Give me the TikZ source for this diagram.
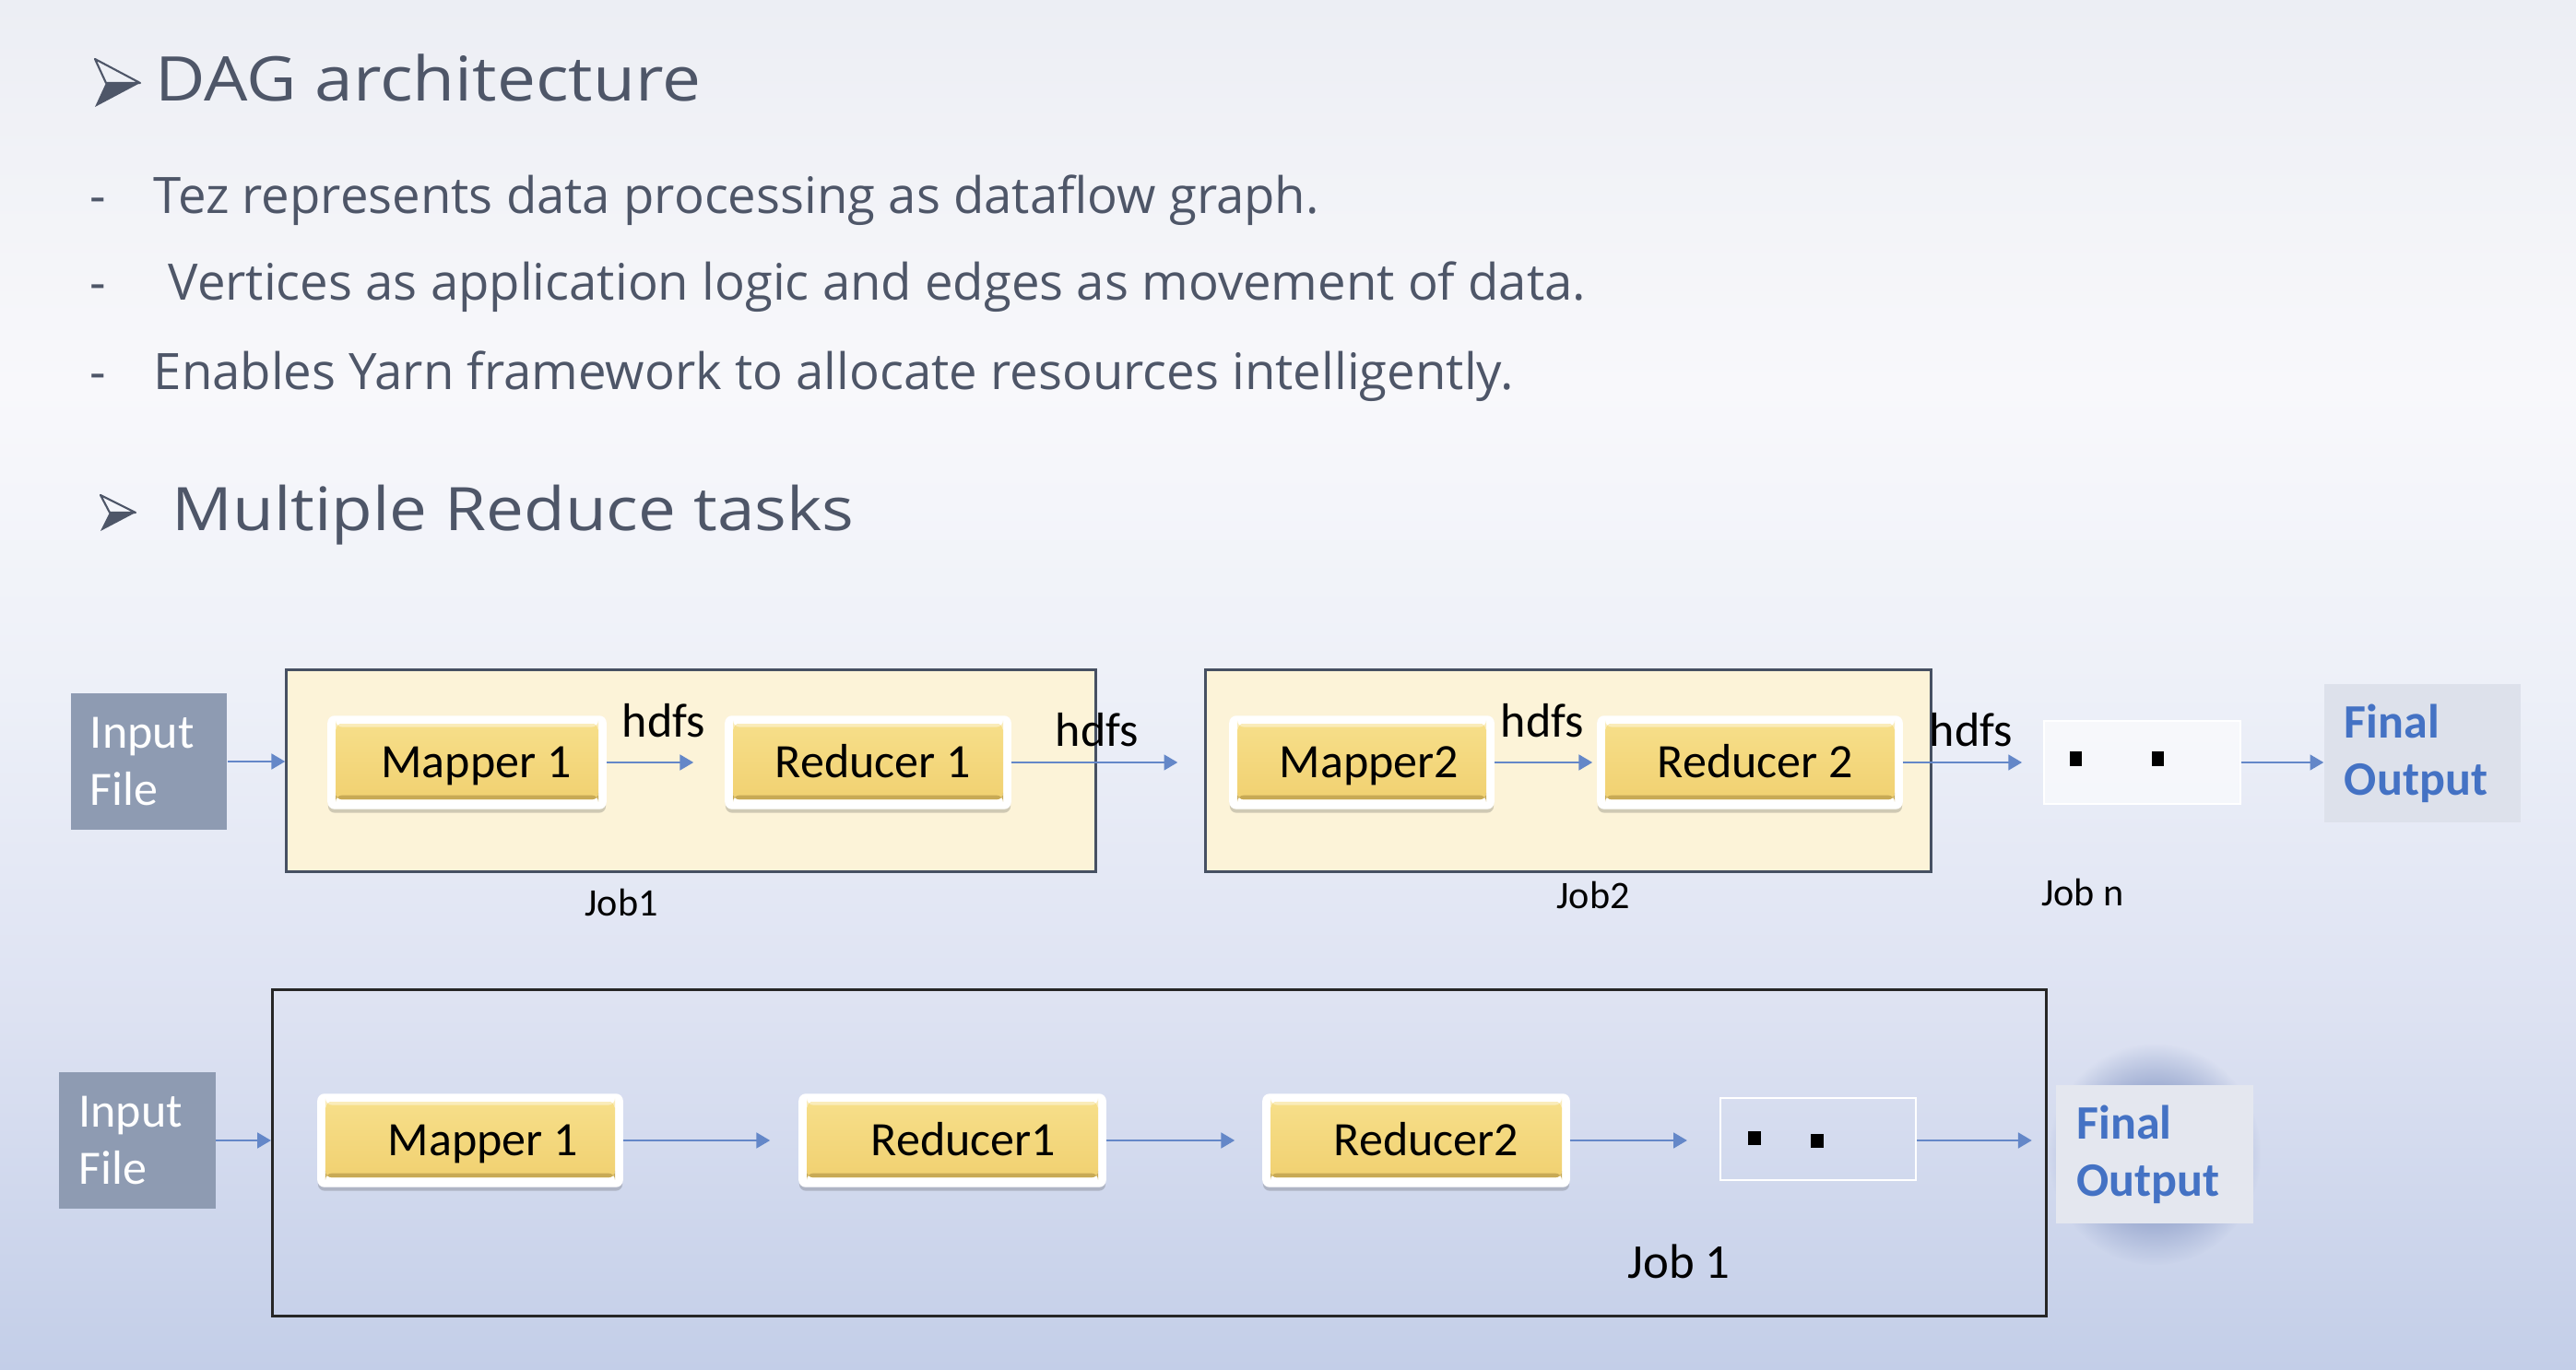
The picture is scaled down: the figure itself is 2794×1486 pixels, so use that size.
\documentclass[tikz,border=0pt]{standalone}
\usepackage{fontspec}
\setmainfont{Carlito}
\newfontfamily\hfont{Open Sans}
\newfontfamily\hfontwide[FakeStretch=1.12]{Open Sans}
\usetikzlibrary{arrows.meta,shadows,fadings}
\pgfdeclareradialshading{glowshade}{\pgfpointorigin}{color(0bp)=(transparent!0); color(14bp)=(transparent!0); color(25bp)=(transparent!100); color(50bp)=(transparent!100)}
\pgfdeclarefading{glowfade}{\pgfuseshading{glowshade}}
\definecolor{bg0}{RGB}{236,238,244}
\definecolor{bg1}{RGB}{248,248,251}
\definecolor{bg2}{RGB}{237,240,248}
\definecolor{bg3}{RGB}{221,226,242}
\definecolor{bg4}{RGB}{195,206,232}
\definecolor{headc}{RGB}{78,86,104}
\definecolor{inputc}{RGB}{142,155,178}
\definecolor{cream}{RGB}{252,243,216}
\definecolor{framec}{RGB}{70,80,98}
\definecolor{ytop}{RGB}{247,224,140}
\definecolor{ybot}{RGB}{240,207,110}
\definecolor{ydark}{RGB}{200,170,85}
\definecolor{arrc}{RGB}{100,135,200}
\definecolor{finalfill}{RGB}{221,225,235}
\definecolor{finaltext}{RGB}{68,114,196}
\definecolor{glowc}{RGB}{155,170,208}
\tikzset{
  boxfont/.style={font=\fontsize{14.8}{17.6}\selectfont},
  inbox/.style={boxfont, fill=inputc, text=white, align=left, text width=1.27cm,
    inner xsep=0.21cm, inner ysep=0pt, minimum height=1.48cm},
  finalbox/.style={boxfont, fill=finalfill, text=finaltext, align=left, text width=1.69cm,
    inner xsep=0.22cm, inner ysep=0pt, minimum height=1.5cm, font=\fontsize{14.8}{17.6}\selectfont\bfseries},
  jobframe/.style={draw=framec, line width=0.85pt, fill=cream, inner sep=0pt, minimum height=2.18cm},
  bigframe/.style={draw=black!85, line width=0.85pt, inner sep=0pt},
  ybox/.style={boxfont, fill=white, draw=white, rounded corners=2pt, inner sep=0pt,
    minimum height=1cm, text height=0.335cm, text depth=0cm,
    drop shadow={shadow xshift=0pt, shadow yshift=-1.3pt, opacity=0.25, fill=black!70},
    path picture={
      \shade[top color=ytop, bottom color=ybot]
        ([xshift=2.3pt,yshift=-2.3pt]path picture bounding box.north west)
        rectangle ([xshift=-2.3pt,yshift=2.8pt]path picture bounding box.south east);
      \fill[ydark]
        ([xshift=2.3pt,yshift=2.8pt]path picture bounding box.south west)
        rectangle ([xshift=-2.3pt,yshift=4.1pt]path picture bounding box.south east);
      \fill[ytop!60!white]
        ([xshift=2.3pt,yshift=-2.3pt]path picture bounding box.north west)
        rectangle ([xshift=-2.3pt,yshift=-3.3pt]path picture bounding box.north east);
    }},
  dotbox/.style={draw=white, line width=0.5pt, inner sep=0pt},
  arr/.style={draw=arrc, line width=0.6pt, -{Triangle[length=4.2pt,width=4.8pt]}},
  lab/.style={inner sep=0pt, anchor=base west, font=\fontsize{14.8}{17}\selectfont},
  joblab/.style={inner sep=0pt, anchor=base},
  head/.style={inner sep=0pt, anchor=base west, text=headc},
  bul/.style={inner sep=0pt, anchor=base west, text=headc, font=\hfont\fontsize{15.5}{18}\selectfont},
}
\begin{document}
\begin{tikzpicture}[x=0.01cm, y=-0.01cm]
\useasboundingbox (0,0) rectangle (2794,1486);
% background
\shade[top color=bg0, bottom color=bg1] (0,0) rectangle (2794,421);
\shade[top color=bg1, bottom color=bg2] (0,420) rectangle (2794,751);
\shade[top color=bg2, bottom color=bg3] (0,750) rectangle (2794,1101);
\shade[top color=bg3, bottom color=bg4] (0,1100) rectangle (2794,1486);

% header arrows
\fill[headc] (115,90) -- (152,90) -- (103,116) -- cycle;
\draw[headc, line width=0.6pt, line join=round] (103,64) -- (152,90) -- (115,90) -- cycle;
\fill[headc] (119,556) -- (147,556) -- (109,576) -- cycle;
\draw[headc, line width=0.6pt, line join=round] (109,537) -- (147,556) -- (119,556) -- cycle;

% header texts
\node[head, font=\hfontwide\fontsize{19}{22}\selectfont] (t1) at (168,110) {DAG architecture};
\node[bul, anchor=base] (d1) at (106,232) {-};
\node[bul] (b1) at (166,232) {Tez represents data processing as dataflow graph.};
\node[bul, anchor=base] (d2) at (106,326) {-};
\node[bul] (b2) at (182,326) {Vertices as application logic and edges as movement of data.};
\node[bul, anchor=base] (d3) at (106,423) {-};
\node[bul] (b3) at (166,423) {Enables Yarn framework to allocate resources intelligently.};
\node[head, font=\hfontwide\fontsize{18.5}{22}\selectfont] (t2) at (186,576) {Multiple Reduce tasks};

% ---------- top row ----------
\node[inbox] (in1) at (161.5,826) {Input\\File};
\node[jobframe, minimum width=8.77cm] (job1) at (749.5,836) {};
\node[jobframe, minimum width=7.86cm] (job2) at (1701,836) {};
\node[ybox, minimum width=3.01cm] (m1) at (506.5,827) {\hspace*{0.2cm}Mapper 1};
\node[ybox, minimum width=3.09cm] (r1) at (941.5,827) {\hspace*{0.11cm}Reducer 1};
\node[ybox, minimum width=2.86cm] (m2) at (1477,827) {\hspace*{0.16cm}Mapper2};
\node[ybox, minimum width=3.30cm] (r2) at (1898,827) {\hspace*{0.12cm}Reducer 2};
\node[dotbox, fill=white, fill opacity=0.6, minimum width=2.13cm, minimum height=0.9cm] (jn) at (2323.5,827) {};
\fill[black] (2245,815) rectangle (2258,831);
\fill[black] (2334,815) rectangle (2347,831);
\node[finalbox] (fo1) at (2627.5,817) {Final\\Output};

\node[lab] (h1) at (674,800) {hdfs};
\node[lab] (h2) at (1144,810) {hdfs};
\node[lab] (h3) at (1627,800) {hdfs};
\node[lab] (h4) at (2092,810) {hdfs};

\node[joblab, font=\fontsize{12}{14}\selectfont] (j1) at (674,994) {Job1};
\node[joblab, font=\fontsize{12}{14}\selectfont] (j2) at (1728,985) {Job2};
\node[joblab, font=\fontsize{12}{14}\selectfont] (jnl) at (2259,982) {Job n};

\draw[arr] (in1.east) -- (in1.east -| job1.west);
\draw[arr, shorten >=0.34cm] (m1.east) -- (r1.west);
\draw[arr, shorten >=0.29cm] (r1.east) -- (r1.east -| job2.west);
\draw[arr, shorten >=0.05cm] (m2.east) -- (r2.west);
\draw[arr, shorten >=0.23cm] (r2.east) -- (jn.west);
\draw[arr] (jn.east) -- (jn.east -| fo1.west);

% ---------- bottom row ----------
\node[inbox] (in2) at (149,1237) {Input\\File};
\node[bigframe, minimum width=19.23cm, minimum height=3.53cm] (big) at (1257.5,1250.5) {};
\node[ybox, minimum width=3.30cm] (bm1) at (510,1237) {\hspace*{0.28cm}Mapper 1};
\node[ybox, minimum width=3.32cm] (br1) at (1033,1237) {\hspace*{0.24cm}Reducer1};
\node[ybox, minimum width=3.32cm] (br2) at (1536,1237) {\hspace*{0.22cm}Reducer2};
\node[dotbox, line width=0.6pt, minimum width=2.12cm, minimum height=0.89cm] (bd) at (1972,1235.5) {};
\fill[black] (1896,1227) rectangle (1910,1242);
\fill[black] (1964,1230) rectangle (1978,1245);
\fill[glowc, path fading=glowfade] (2337,1252) ellipse [x radius=1.15cm, y radius=1.2cm];
\node[finalbox, fill=finalfill!80!white] (fo2) at (2337,1252) {Final\\Output};
\node[joblab, font=\fontsize{15}{18}\selectfont] (jb) at (1821,1386) {Job 1};

\draw[arr] (in2.east) -- (in2.east -| big.west);
\draw[arr, shorten >=0.31cm] (bm1.east) -- (br1.west);
\draw[arr, shorten >=0.30cm] (br1.east) -- (br2.west);
\draw[arr, shorten >=0.35cm] (br2.east) -- (br2.east -| bd.west);
\draw[arr, shorten >=0.26cm] (bd.east |- br2.east) -- (br2.east -| fo2.west);
\end{tikzpicture}
\end{document}
